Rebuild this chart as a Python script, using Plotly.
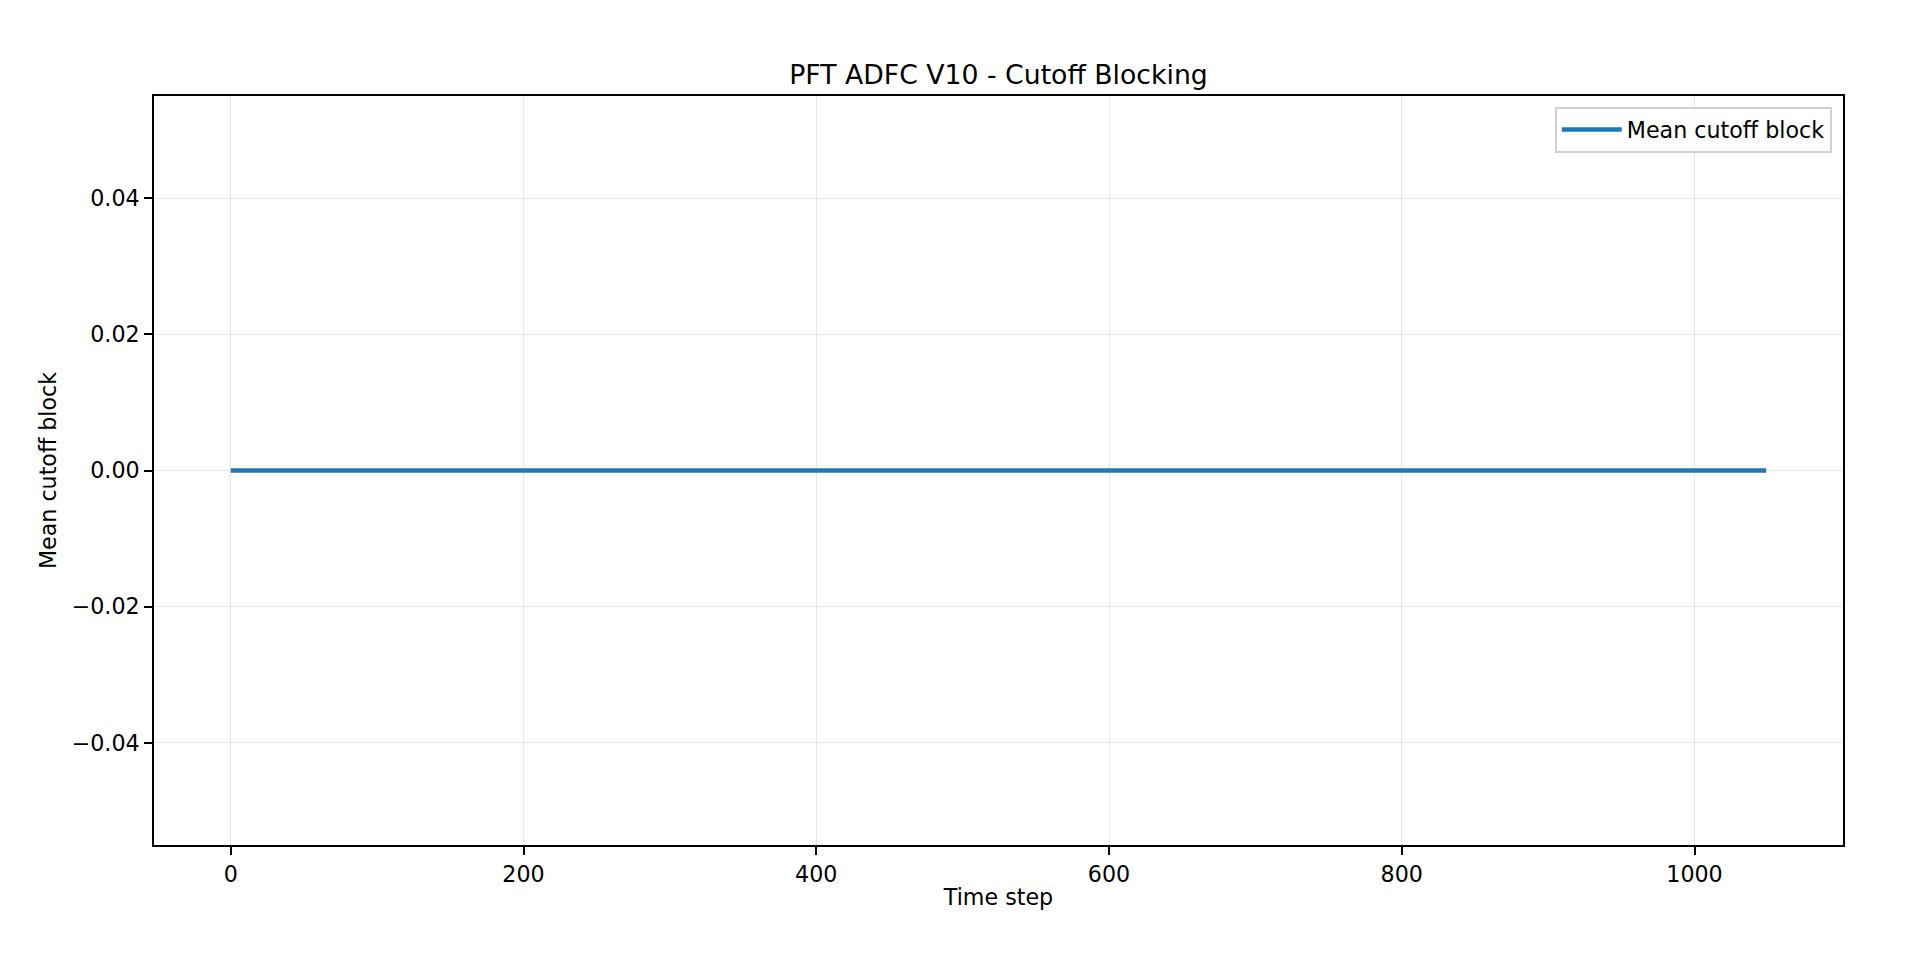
import plotly.graph_objects as go

# time steps 0..1049 and the mean cutoff block per step (flat at zero)
time_step = list(range(1050))
mean_cutoff_block = [0.0] * 1050

x_ticks = [0, 200, 400, 600, 800, 1000]
y_ticks = [-0.04, -0.02, 0.0, 0.02, 0.04]

font_family = "DejaVu Sans"
grid_col = "#e8e8e8"
# the page body puts the figure 8px in from the top-left corner
page_off = 8

fig = go.Figure()
fig.add_trace(go.Scatter(
    x=time_step, y=mean_cutoff_block, mode="lines",
    name="Mean cutoff block",
    line=dict(color="#1f77b4", width=4.4),
))

axis_common = dict(
    showline=True, mirror=True, linecolor="black", linewidth=1.8,
    ticks="outside", ticklen=8, tickwidth=1.8, tickcolor="black",
    showgrid=True, gridcolor=grid_col, gridwidth=1.3,
    zeroline=False,
    tickfont=dict(family=font_family, size=22.2, color="black"),
)

fig.update_layout(
    width=1920, height=960,
    paper_bgcolor="white", plot_bgcolor="white",
    margin=dict(l=154 - page_off, r=77 + page_off, t=96 - page_off, b=115 + page_off),
    font=dict(family=font_family, size=22.2, color="black"),
    title=dict(
        text="PFT ADFC V10 - Cutoff Blocking",
        font=dict(family=font_family, size=26.7, color="black"),
        x=0.5, xanchor="center", xref="paper",
        y=1 - (83.5 - page_off) / 960, yanchor="bottom", yref="container",
        pad=dict(b=0),
    ),
    xaxis=dict(
        axis_common,
        range=[-52.45, 1101.45], tickvals=x_ticks,
        title=dict(text="Time step", standoff=4,
                   font=dict(family=font_family, size=22.2, color="black")),
    ),
    yaxis=dict(
        axis_common,
        range=[-0.055, 0.055], tickvals=y_ticks, tickformat=".2f",
        title=dict(text="Mean cutoff block", standoff=9,
                   font=dict(family=font_family, size=22.2, color="black")),
    ),
    showlegend=True,
    legend=dict(
        x=0.9935, y=0.9857, xanchor="right", yanchor="top",
        bgcolor="rgba(255,255,255,0.8)", bordercolor="#d0d0d0", borderwidth=1.8,
        itemwidth=60,
        font=dict(family=font_family, size=22.2, color="black"),
    ),
)

fig.write_html("out.html")
